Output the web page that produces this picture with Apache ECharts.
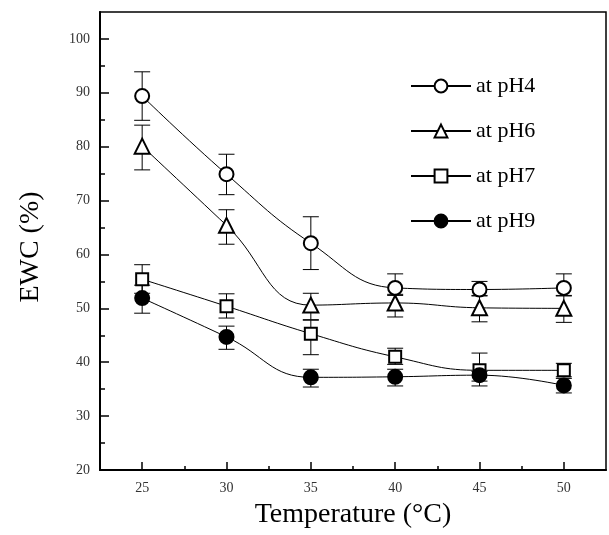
<!DOCTYPE html>
<html><head><meta charset="utf-8">
<script src="https://cdn.jsdelivr.net/npm/echarts@6/dist/echarts.min.js"></script>
<style>html,body{margin:0;padding:0;background:#fff}#c{width:609px;height:535px}</style>
</head><body><div id="c"></div>
<script>
const temps = [25, 30, 35, 40, 45, 50];
const xMajorTicks = [25, 30, 35, 40, 45, 50];
const xMinorTicks = [27.5, 32.5, 37.5, 42.5, 47.5];
const yMajorTicks = [20, 30, 40, 50, 60, 70, 80, 90, 100];
const yMinorTicks = [25, 35, 45, 55, 65, 75, 85, 95];
const seriesNames = ['at pH4', 'at pH6', 'at pH7', 'at pH9'];

const pH4   = [89.4, 74.9, 62.1, 53.8, 53.5, 53.8];
const pH4Hi = [93.9, 78.6, 67.0, 56.4, 55.0, 56.4];
const pH4Lo = [84.9, 71.1, 57.2, 52.4, 52.4, 52.4];

const pH6   = [80.1, 65.4, 50.6, 51.0, 50.1, 50.0];
const pH6Hi = [84.0, 68.3, 52.8, 52.6, 52.3, 52.3];
const pH6Lo = [75.7, 61.9, 47.9, 48.4, 47.5, 47.4];

const pH7   = [55.4, 50.4, 45.3, 41.0, 38.5, 38.5];
const pH7Hi = [58.1, 52.7, 47.8, 42.6, 41.7, 39.8];
const pH7Lo = [52.8, 48.2, 41.4, 39.6, 36.5, 37.3];

const pH9   = [51.9, 44.7, 37.2, 37.3, 37.6, 35.7];
const pH9Hi = [54.3, 46.7, 38.7, 38.7, 38.3, 37.0];
const pH9Lo = [49.1, 42.4, 35.4, 35.6, 35.6, 34.3];

const FONT = 'Liberation Serif';
const chart = echarts.init(document.getElementById('c'), null, {renderer: 'canvas'});

function pts(vals) { return temps.map((t, i) => [t, vals[i]]); }
function errs(lo, hi) { return temps.map((t, i) => [t, lo[i], hi[i]]); }

function renderErr(params, api) {
  const x = api.value(0), lo = api.value(1), hi = api.value(2);
  const pLo = api.coord([x, lo]), pHi = api.coord([x, hi]);
  const hw = 8;
  const style = {stroke: '#000', lineWidth: 1, fill: null};
  return {type: 'group', children: [
    {type: 'line', shape: {x1: pHi[0], y1: pHi[1], x2: pLo[0], y2: pLo[1]}, style: style},
    {type: 'line', shape: {x1: pHi[0] - hw, y1: pHi[1], x2: pHi[0] + hw, y2: pHi[1]}, style: style},
    {type: 'line', shape: {x1: pLo[0] - hw, y1: pLo[1], x2: pLo[0] + hw, y2: pLo[1]}, style: style}
  ]};
}

const defs = [
  {name: seriesNames[0], v: pH4, lo: pH4Lo, hi: pH4Hi, symbol: 'circle', size: 14, fill: '#fff'},
  {name: seriesNames[1], v: pH6, lo: pH6Lo, hi: pH6Hi, symbol: 'triangle', size: 15, fill: '#fff'},
  {name: seriesNames[2], v: pH7, lo: pH7Lo, hi: pH7Hi, symbol: 'rect', size: 12, fill: '#fff'},
  {name: seriesNames[3], v: pH9, lo: pH9Lo, hi: pH9Hi, symbol: 'circle', size: 14, fill: '#000'}
];

const series = [];
defs.forEach(d => {
  series.push({
    type: 'custom', name: d.name + ' err', renderItem: renderErr,
    data: errs(d.lo, d.hi), encode: {x: 0, y: [1, 2]}, z: 1, silent: true,
    xAxisIndex: 0, yAxisIndex: 0
  });
});
defs.forEach(d => {
  series.push({
    type: 'line', name: d.name, data: pts(d.v), smooth: 0.45,
    symbol: d.symbol, symbolSize: d.size, showAllSymbol: true,
    lineStyle: {color: '#000', width: 1},
    itemStyle: {color: d.fill, borderColor: '#000', borderWidth: 2},
    z: 3, xAxisIndex: 0, yAxisIndex: 0, animation: false
  });
});

const labelStyle = {fontFamily: FONT, fontSize: 14, color: '#333'};

chart.setOption({
  animation: false,
  backgroundColor: '#fff',
  grid: {left: 100, right: 3, top: 12, bottom: 65, show: true, borderColor: '#000', borderWidth: 1.5, containLabel: false},
  legend: {
    data: seriesNames, orient: 'vertical', left: 405, top: 70,
    itemWidth: 60, itemHeight: 16, itemGap: 23,
    textStyle: {fontFamily: FONT, fontSize: 22, color: '#000', lineHeight: 16},
    inactiveColor: '#000'
  },
  xAxis: [
    {
      type: 'value', min: 22.5, max: 52.5, position: 'bottom',
      axisLine: {show: true, lineStyle: {color: '#000', width: 2}},
      axisTick: {show: true, inside: true, length: 8, customValues: xMajorTicks, lineStyle: {color: '#000', width: 1.5}},
      axisLabel: Object.assign({customValues: xMajorTicks, margin: 11}, labelStyle),
      splitLine: {show: false},
      name: 'Temperature (°C)', nameLocation: 'middle', nameGap: 31,
      nameTextStyle: {fontFamily: FONT, fontSize: 28, color: '#000'}
    },
    {
      type: 'value', min: 22.5, max: 52.5, position: 'bottom',
      axisLine: {show: false},
      axisTick: {show: true, inside: true, length: 4, customValues: xMinorTicks, lineStyle: {color: '#000', width: 1.5}},
      axisLabel: {show: false}, splitLine: {show: false}
    }
  ],
  yAxis: [
    {
      type: 'value', min: 20, max: 105, position: 'left',
      axisLine: {show: true, lineStyle: {color: '#000', width: 2}},
      axisTick: {show: true, inside: true, length: 9, customValues: yMajorTicks, lineStyle: {color: '#000', width: 1.5}},
      axisLabel: Object.assign({customValues: yMajorTicks, margin: 10}, labelStyle),
      splitLine: {show: false},
      name: 'EWC (%)', nameLocation: 'middle', nameGap: 55,
      nameTextStyle: {fontFamily: FONT, fontSize: 28, color: '#000', padding: [0, 12, 0, 0]}
    },
    {
      type: 'value', min: 20, max: 105, position: 'left',
      axisLine: {show: false},
      axisTick: {show: true, inside: true, length: 5, customValues: yMinorTicks, lineStyle: {color: '#000', width: 1.5}},
      axisLabel: {show: false}, splitLine: {show: false}
    }
  ],
  series: series
});
</script></body></html>
